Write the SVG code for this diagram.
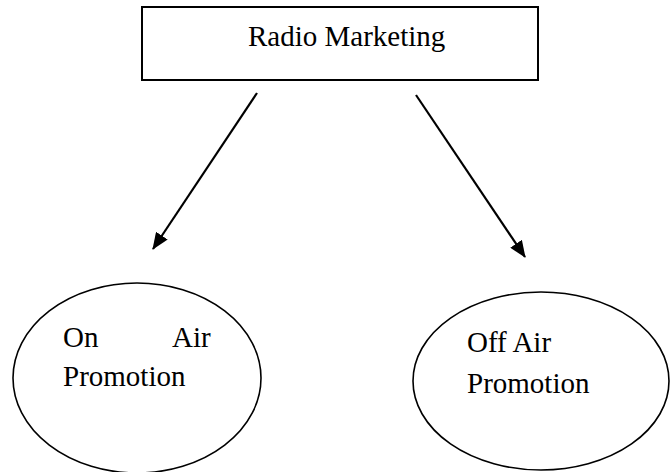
<svg xmlns="http://www.w3.org/2000/svg" width="671" height="472" viewBox="0 0 671 472">
  <style>
    .shape { fill: #ffffff; stroke: #000000; stroke-width: 2; }
    .node-oval { fill: #ffffff; stroke: #000000; stroke-width: 1.6; }
    .edge { fill: none; stroke: #000000; stroke-width: 2.2; }
    .label { font-family: "Liberation Serif", "Times New Roman", serif; font-size: 29px; fill: #000000; }
  </style>
  <defs>
    <marker id="arrow" viewBox="0 0 17 14" refX="16" refY="7" markerWidth="17" markerHeight="14" markerUnits="userSpaceOnUse" orient="auto">
      <path d="M0,0 L17,7 L0,14 Z" fill="#000000"/>
    </marker>
  </defs>
  <rect width="671" height="472" fill="#ffffff"/>

  <g id="radio-marketing">
    <rect class="shape" x="142" y="7" width="396" height="73"/>
    <text class="label" x="248" y="46">Radio Marketing</text>
  </g>

  <g id="connectors">
    <line class="edge" x1="257" y1="93" x2="153" y2="249" marker-end="url(#arrow)"/>
    <line class="edge" x1="416" y1="95" x2="525" y2="257" marker-end="url(#arrow)"/>
  </g>

  <g id="on-air-promotion">
    <ellipse class="node-oval" cx="137" cy="378" rx="124" ry="95"/>
    <text class="label" x="63" y="347">On</text>
    <text class="label" x="172" y="347">Air</text>
    <text class="label" x="63" y="386">Promotion</text>
  </g>

  <g id="off-air-promotion">
    <ellipse class="node-oval" cx="541" cy="381" rx="128" ry="89"/>
    <text class="label" x="467" y="352">Off Air</text>
    <text class="label" x="467" y="393">Promotion</text>
  </g>
</svg>
